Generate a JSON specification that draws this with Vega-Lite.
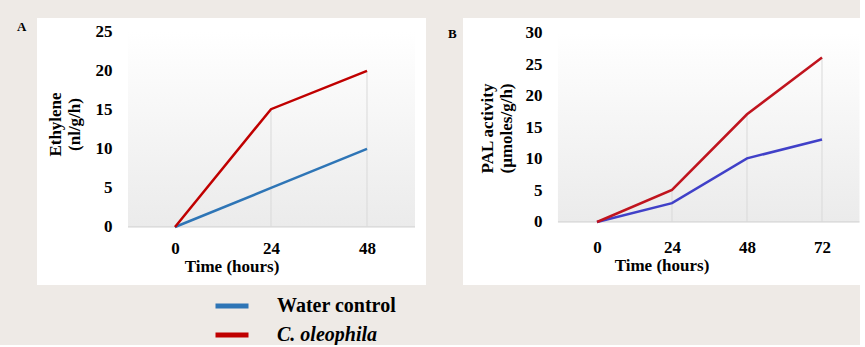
{
  "$schema": "https://vega.github.io/schema/vega-lite/v6.json",
  "background": "#eeeae6",
  "padding": {"left": 17, "top": 18, "right": 0, "bottom": 0},
  "bounds": "flush",
  "spacing": 37,
  "config": {
    "font": "Liberation Serif",
    "view": {"fill": "white", "stroke": null},
    "axis": {
      "labelFont": "Liberation Serif", "titleFont": "Liberation Serif",
      "labelFontSize": 17, "titleFontSize": 17,
      "labelFontWeight": "bold", "titleFontWeight": "bold",
      "labelColor": "#000", "titleColor": "#000",
      "grid": false, "ticks": false, "domain": false, "labelFlush": false, "labelOverlap": false
    }
  },
  "datasets": {
    "ethylene": [
      {"time": 0, "treatment": "Water control", "value": 0},
      {"time": 24, "treatment": "Water control", "value": 5},
      {"time": 48, "treatment": "Water control", "value": 10},
      {"time": 0, "treatment": "C. oleophila", "value": 0},
      {"time": 24, "treatment": "C. oleophila", "value": 15.1},
      {"time": 48, "treatment": "C. oleophila", "value": 20}
    ],
    "pal": [
      {"time": 0, "treatment": "Water control", "value": 0},
      {"time": 24, "treatment": "Water control", "value": 3},
      {"time": 48, "treatment": "Water control", "value": 10.1},
      {"time": 72, "treatment": "Water control", "value": 13.1},
      {"time": 0, "treatment": "C. oleophila", "value": 0},
      {"time": 24, "treatment": "C. oleophila", "value": 5.1},
      {"time": 48, "treatment": "C. oleophila", "value": 17.1},
      {"time": 72, "treatment": "C. oleophila", "value": 26.1}
    ]
  },
  "hconcat": [
    {
      "width": 389, "height": 267,
      "title": {"text": "A", "anchor": "start", "orient": "top", "frame": "group", "offset": 0, "dx": -20, "dy": 26, "baseline": "alphabetic", "fontSize": 13, "fontWeight": "bold", "font": "Liberation Serif", "color": "#000"},
      "data": {"name": "ethylene"},
      "layer": [
        {
          "data": {"values": [{}]},
          "mark": {"type": "rect", "color": {"gradient": "linear", "x1": 0, "y1": 0, "x2": 0, "y2": 1, "stops": [{"offset": 0, "color": "#ffffff"}, {"offset": 1, "color": "#ebebeb"}]}},
          "encoding": {
            "x": {"datum": -11.75, "type": "quantitative"}, "x2": {"datum": 60, "type": "quantitative"},
            "y": {"datum": 25, "type": "quantitative"}, "y2": {"datum": 0, "type": "quantitative"}
          }
        },
        {
          "data": {"values": [{}]},
          "mark": {"type": "rule", "color": "#cfcfcf", "strokeWidth": 1},
          "encoding": {
            "x": {"datum": -11.75, "type": "quantitative"}, "x2": {"datum": 60, "type": "quantitative"},
            "y": {"datum": 0, "type": "quantitative"}
          }
        },
        {
          "transform": [{"aggregate": [{"op": "max", "field": "value", "as": "top"}], "groupby": ["time"]}],
          "mark": {"type": "rule", "color": "#d9d9d9", "strokeWidth": 1},
          "encoding": {
            "x": {"field": "time", "type": "quantitative", "title": "Time (hours)"},
            "y": {"field": "top", "type": "quantitative", "title": ["Ethylene", "(nl/g/h)"]},
            "y2": {"datum": 0, "type": "quantitative"}
          }
        },
        {
          "mark": {"type": "line", "strokeWidth": 2.5},
          "encoding": {
            "x": {"field": "time", "type": "quantitative", "scale": {"domain": [-34.5, 62.75], "nice": false, "zero": false},
              "axis": {"values": [0, 24, 48], "title": "Time (hours)", "offset": -58, "labelPadding": 13, "titlePadding": 2}},
            "y": {"field": "value", "type": "quantitative", "scale": {"domain": [-7.44, 26.79], "nice": false, "zero": false},
              "axis": {"values": [0, 5, 10, 15, 20, 25], "title": ["Ethylene", "(nl/g/h)"], "offset": -91, "labelPadding": 16, "titleX": -64, "titleY": 106}},
            "color": {"field": "treatment", "type": "nominal",
              "scale": {"domain": ["Water control", "C. oleophila"], "range": ["#2E75B6", "#C00000"]},
              "legend": {"orient": "none", "legendX": 176, "legendY": 269, "title": null, "symbolType": "stroke", "symbolSize": 1089, "symbolStrokeWidth": 5,
                "labelFont": "Liberation Serif", "labelFontSize": 20, "labelFontWeight": "bold", "labelColor": "#000",
                "labelFontStyle": {"expr": "datum.label == 'C. oleophila' ? 'italic' : 'normal'"},
                "labelOffset": 26, "rowPadding": -4}}
          }
        }
      ]
    },
    {
      "width": 397, "height": 267,
      "title": {"text": "B", "anchor": "start", "orient": "top", "frame": "group", "offset": 0, "dx": -15, "dy": 33, "baseline": "alphabetic", "fontSize": 13, "fontWeight": "bold", "font": "Liberation Serif", "color": "#000"},
      "data": {"name": "pal"},
      "layer": [
        {
          "data": {"values": [{}]},
          "mark": {"type": "rect", "color": {"gradient": "linear", "x1": 0, "y1": 0, "x2": 0, "y2": 1, "stops": [{"offset": 0, "color": "#ffffff"}, {"offset": 1, "color": "#ebebeb"}]}},
          "encoding": {
            "x": {"datum": -12.5, "type": "quantitative"}, "x2": {"datum": 84, "type": "quantitative"},
            "y": {"datum": 30, "type": "quantitative"}, "y2": {"datum": 0, "type": "quantitative"}
          }
        },
        {
          "data": {"values": [{}]},
          "mark": {"type": "rule", "color": "#cfcfcf", "strokeWidth": 1},
          "encoding": {
            "x": {"datum": -12.5, "type": "quantitative"}, "x2": {"datum": 84, "type": "quantitative"},
            "y": {"datum": 0, "type": "quantitative"}
          }
        },
        {
          "transform": [{"aggregate": [{"op": "max", "field": "value", "as": "top"}], "groupby": ["time"]}],
          "mark": {"type": "rule", "color": "#d9d9d9", "strokeWidth": 1},
          "encoding": {
            "x": {"field": "time", "type": "quantitative", "title": "Time (hours)"},
            "y": {"field": "top", "type": "quantitative", "title": ["PAL activity", "(µmoles/g/h)"]},
            "y2": {"datum": 0, "type": "quantitative"}
          }
        },
        {
          "mark": {"type": "line", "strokeWidth": 2.5},
          "encoding": {
            "x": {"field": "time", "type": "quantitative", "scale": {"domain": [-42.88, 84.16], "nice": false, "zero": false},
              "axis": {"values": [0, 24, 48, 72], "title": "Time (hours)", "offset": -63, "labelPadding": 17, "titlePadding": 2}},
            "y": {"field": "value", "type": "quantitative", "scale": {"domain": [-10, 32.38], "nice": false, "zero": false},
              "axis": {"values": [0, 5, 10, 15, 20, 25, 30], "title": ["PAL activity", "(µmoles/g/h)"], "offset": -95, "labelPadding": 16, "titleX": -62, "titleY": 110}},
            "color": {"field": "treatment", "type": "nominal",
              "scale": {"domain": ["Water control", "C. oleophila"], "range": ["#4040C8", "#C0141E"]},
              "legend": null}
          }
        }
      ]
    }
  ],
  "resolve": {"scale": {"color": "independent", "x": "independent", "y": "independent"}, "legend": {"color": "independent"}}
}
